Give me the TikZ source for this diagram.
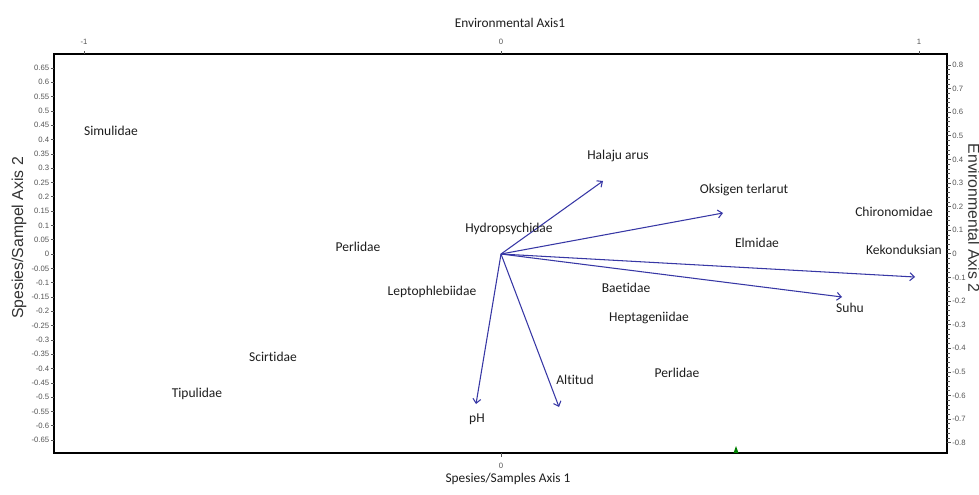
\documentclass[tikz,border=0pt]{standalone}
\usepackage{fontspec}
\setmainfont{Carlito}[Ligatures=NoCommon]
\newfontfamily\arialf{Liberation Sans}
\usetikzlibrary{arrows.meta}
\definecolor{vec}{RGB}{55,55,165}
\definecolor{tickc}{RGB}{85,85,85}
\definecolor{lblc}{RGB}{30,30,30}
\begin{document}
\begin{tikzpicture}[x=0.02cm,y=-0.02cm,
  lbl/.style={font=\fontsize{7.7}{8}\selectfont, text=lblc, inner sep=0},
  ttl/.style={font=\fontsize{7.6}{8}\selectfont, text=lblc, inner sep=0},
  sidettl/.style={font=\arialf\fontsize{9}{10}\selectfont, text=black!80, inner sep=0},
  ticklbl/.style={font=\arialf\fontsize{4.4}{5}\selectfont, text=tickc, inner sep=0},
  vecline/.style={draw=vec, line width=0.6pt, -{Straight Barb[length=2.5pt,width=4.5pt]}},
  tickline/.style={draw=tickc, line width=0.35pt}]
\useasboundingbox (0,0) rectangle (979,494);
\fill[white] (0,0) rectangle (979,494);

% frame
\draw[line width=1.1pt] (53,54) -- (948,54);
\draw[line width=1.1pt] (53,453) -- (948,453);
\draw[line width=0.8pt] (54,54) -- (54,453);
\draw[line width=1.1pt] (947,54) -- (947,453);

% left ticks
\foreach \t [count=\i from 0] in {0.65,0.6,0.55,0.5,0.45,0.4,0.35,0.3,0.25,0.2,0.15,0.1,0.05,0,-0.05,-0.1,-0.15,-0.2,-0.25,-0.3,-0.35,-0.4,-0.45,-0.5,-0.55,-0.6,-0.65}{
  \draw[tickline] (54,68+\i*14.31) -- (50.5,68+\i*14.31);
  \node[ticklbl, anchor=east] (lt\i) at (49.5,68+\i*14.31) {\t};
}
% right ticks
\foreach \i in {0,...,80}{
  \draw[tickline] (947,65+\i*4.72) -- (949.5,65+\i*4.72);
}
\foreach \t [count=\i from 0] in {0.8,0.7,0.6,0.5,0.4,0.3,0.2,0.1,0,-0.1,-0.2,-0.3,-0.4,-0.5,-0.6,-0.7,-0.8}{
  \draw[tickline] (947,65+\i*23.6) -- (951,65+\i*23.6);
  \node[ticklbl, anchor=west] (rt\i) at (952,65+\i*23.6) {\t};
}
% top ticks
\foreach \x/\t [count=\i] in {84/-1,501/0,919/1}{
  \draw[tickline] (\x,54) -- (\x,50.5);
  \node[ticklbl] (tt\i) at (\x,42) {\t};
}
% bottom tick
\draw[tickline] (501,453) -- (501,457);
\node[ticklbl] (bt) at (501,466) {0};

% axis titles
\node[ttl] (topttl) at (510,23) {Environmental Axis1};
\node[ttl] (botttl) at (508,479) {Spesies/Samples Axis 1};
\node[sidettl, rotate=90] (leftttl) at (19,238) {Spesies/Sampel Axis 2};
\node[sidettl, rotate=-90] (rightttl) at (974,218) {Environmental Axis 2};

% vectors
\coordinate (O) at (501,254);
\coordinate (halaju) at (603,181);
\coordinate (oksigen) at (723,213);
\coordinate (konduk) at (915,277);
\coordinate (suhu) at (842,297);
\coordinate (ph) at (476,404);
\coordinate (alt) at (559,407);
\foreach \e in {halaju,oksigen,konduk,suhu,ph,alt}{
  \draw[vecline] (O) -- (\e);
}

% species / variable labels
\node[lbl] (simulidae) at (111,131) {Simulidae};
\node[lbl] (halajul) at (618,156) {Halaju arus};
\node[lbl] (oksigenl) at (744,190) {Oksigen terlarut};
\node[lbl] (chiro) at (894,212) {Chironomidae};
\node[lbl] (hydro) at (509,229) {Hydropsychidae};
\node[lbl] (perlidae1) at (358,247) {Perlidae};
\node[lbl] (elmidae) at (757,243) {Elmidae};
\node[lbl] (kondukl) at (904,250) {Kekonduksian};
\node[lbl] (baetidae) at (626,288) {Baetidae};
\node[lbl] (lepto) at (432,292) {Leptophlebiidae};
\node[lbl] (hepta) at (649,318) {Heptageniidae};
\node[lbl] (suhul) at (850,308) {Suhu};
\node[lbl] (scirtidae) at (273,357) {Scirtidae};
\node[lbl] (perlidae2) at (677,373) {Perlidae};
\node[lbl] (altl) at (575,380) {Altitud};
\node[lbl] (tipulidae) at (197,394) {Tipulidae};
\node[lbl] (phl) at (477,419) {pH};

% small green marker on the bottom axis
\fill[green!50!black] (733.5,453) -- (736,446) -- (738.5,453) -- cycle;
\end{tikzpicture}
\end{document}
